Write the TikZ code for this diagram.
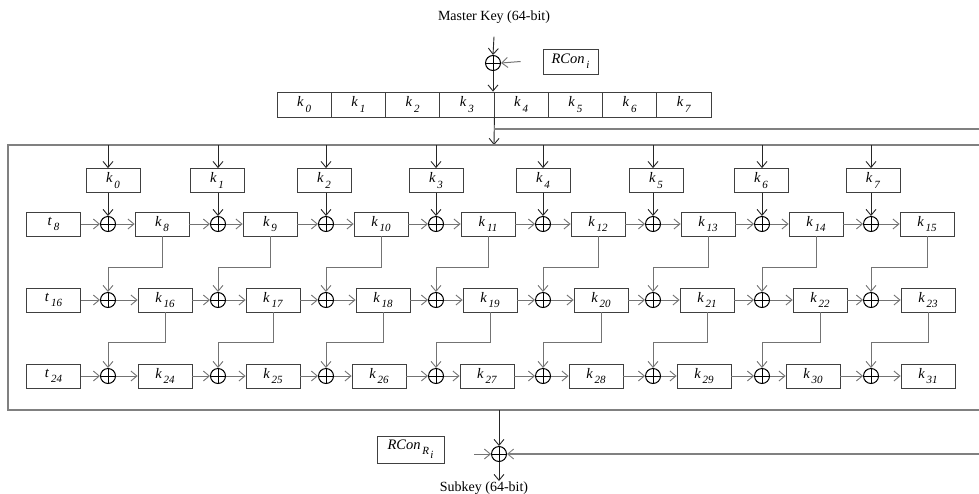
\documentclass[tikz,border=0pt]{standalone}
\usepackage{fontspec}
\setmainfont{Liberation Serif}
\usetikzlibrary{arrows.meta,calc}
\newcommand\kx[2]{\textit{#1}\hspace{0.12em}\raisebox{-0.35em}{\textit{\fontsize{11}{11}\selectfont #2}}}
\begin{document}
\begin{tikzpicture}[x=1pt,y=-1pt,
  bx/.style={draw=black!75, line width=0.8pt, minimum width=54pt, minimum height=24pt, inner sep=0pt, font=\fontsize{14.5}{14.5}\selectfont},
  rg/.style={draw=black!75, line width=0.8pt, minimum width=54.25pt, minimum height=25pt, inner sep=0pt, font=\fontsize{14.5}{14.5}\selectfont},
  xo/.style={circle, draw=black, line width=1pt, minimum size=15pt, inner sep=0pt,
    path picture={\draw[line width=1pt] (path picture bounding box.north) -- (path picture bounding box.south)
      (path picture bounding box.west) -- (path picture bounding box.east);}},
  tip/.style={-{Straight Barb[length=6pt,width=10pt,line width=0.9pt]}},
  ar/.style={tip, draw=black!55, line width=1pt},
  ak/.style={tip, draw=black!85, line width=0.9pt},
  fb/.style={tip, draw=black!55, line width=1pt},
  fr/.style={draw=black!50, line width=1.1pt},
  lbl/.style={font=\fontsize{14}{14}\selectfont, inner sep=0pt}]
\useasboundingbox (0,0) rectangle (979,493);
\clip (0,0) rectangle (979,493);

% top part
\node[lbl] (mk) at (494,17) {Master Key (64-bit)};
\node[xo] (mx) at (493,63) {};
\node[bx, minimum width=55pt, minimum height=25pt] (rc) at (570.5,61.5) {\kx{RCon}{i}};
\draw[ak] ([yshift=-13pt]mk.south) -- (mx.north);
\draw[ar] ([xshift=-22pt]rc.west) -- (mx.east);
\foreach \i in {0,...,7}{
  \node[rg] (r\i) at ({277+27.125+54.25*\i},104.5) {\kx{k}{\i}};
}
\draw[ak] (mx.south) -- (mx.south |- r0.north);
\coordinate (split) at (494,129);
\coordinate (ftop) at (494,145);
\draw[ak] (r3.south east) -- (ftop);
\coordinate (rend) at (995,129);
\draw[fr] (split) -- (rend);

% frame
\draw[fr] (995,145) -- (8,145) -- (8,410) -- (995,410);

% key boxes
\foreach \i/\cx/\kc in {0/108/113,1/218/217,2/326/324,3/436/436,4/543/543,5/653/656,6/762/761,7/871/873}{
  \node[bx] (kb\i) at (\kc,180.5) {\kx{k}{\i}};
  \coordinate (kt\i) at (\cx,145);
  \draw[ak] (kt\i) -- (kb\i.north -| kt\i);
}

% rows
\foreach \r/\y/\base in {1/224/8,2/300/16,3/376/24}{
  \node[bx] (t\r) at (53.5,\y) {\kx{t}{\base}};
}
\foreach \i/\cx/\ca/\cb/\cc in {0/108/162/165/165,1/218/270/273/273,2/326/381/383/379,3/436/488/490/487,4/543/598/601/596,5/653/708/707/704,6/762/816/820/813,7/871/927/928/928}{
  \pgfmathtruncatemacro{\ka}{8+\i}
  \pgfmathtruncatemacro{\kb}{16+\i}
  \pgfmathtruncatemacro{\kc}{24+\i}
  \node[xo] (x1\i) at (\cx,224) {};
  \node[xo] (x2\i) at (\cx,300) {};
  \node[xo] (x3\i) at (\cx,376) {};
  \node[bx] (b1\i) at (\ca,224) {\kx{k}{\ka}};
  \node[bx] (b2\i) at (\cb,300) {\kx{k}{\kb}};
  \node[bx] (b3\i) at (\cc,376) {\kx{k}{\kc}};
  \draw[ar] (x1\i) -- (b1\i);
  \draw[ar] (x2\i) -- (b2\i);
  \draw[ar] (x3\i) -- (b3\i);
  \draw[ak] (kb\i.south -| x1\i) -- (x1\i.north);
  \draw[fb] (b1\i.south) -- ++(0,31) -| (x2\i.north);
  \draw[fb] (b2\i.south) -- ++(0,30) -| (x3\i.north);
}
\foreach \r in {1,2,3}{
  \draw[ar] (t\r) -- (x\r0);
  \foreach \i [evaluate=\i as \j using int(\i+1)] in {0,...,6}{
    \draw[ar] (b\r\i) -- (x\r\j);
  }
}

% bottom
\coordinate (fbot) at (499,410);
\node[xo] (bxo) at (499,454) {};
\node[bx, minimum width=67pt, minimum height=27pt] (rr) at (410.5,449.5) {\kx{RCon}{\kx{R}{i}}};
\draw[ak] (fbot) -- (bxo.north);
\draw[ar] ([xshift=30pt]rr.east |- bxo) -- (bxo.west);
\coordinate (lend) at (995,454);
\draw[fr, tip] (lend) -- (bxo.east);
\node[lbl, anchor=north] (sk) at (484,482) {Subkey (64-bit)};
\draw[ak] (bxo.south) -- ([yshift=1pt]sk.north -| bxo);
\end{tikzpicture}
\end{document}
